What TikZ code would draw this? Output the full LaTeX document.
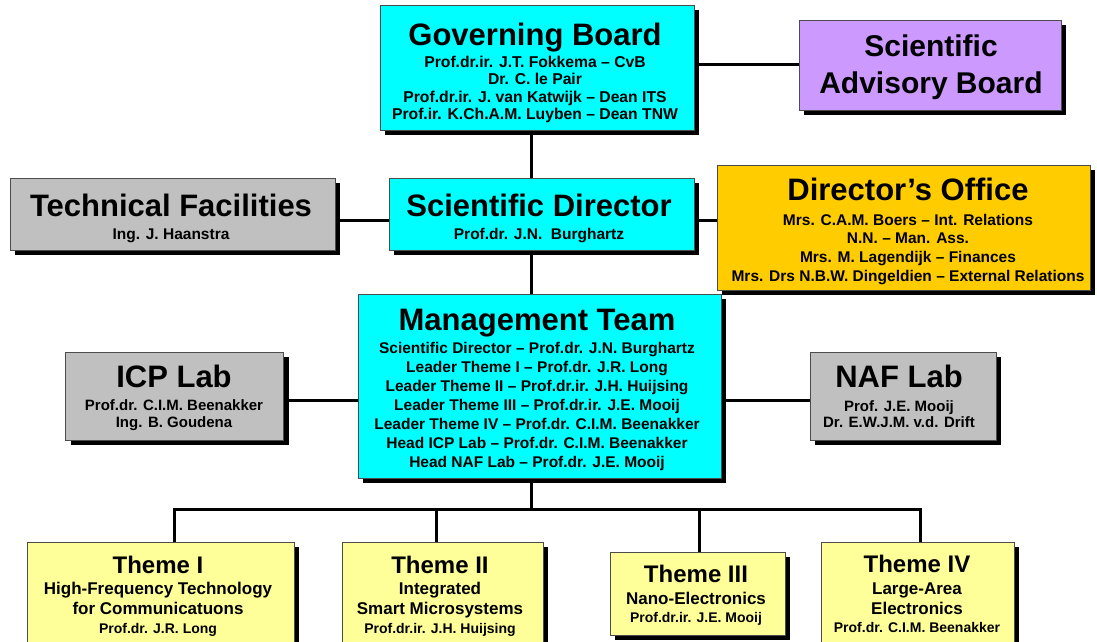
\documentclass[tikz,border=0pt]{standalone}
\usepackage{fontspec}
\setmainfont{Liberation Sans}
\usetikzlibrary{shadows}
\definecolor{cCyan}{HTML}{00FFFF}
\definecolor{cGray}{HTML}{C0C0C0}
\definecolor{cPurple}{HTML}{CC99FF}
\definecolor{cOrange}{HTML}{FFCC00}
\definecolor{cYellow}{HTML}{FFFF99}
\newcommand\tbig[1]{{\fontsize{31}{31}\selectfont #1}}
\newcommand\tmid[1]{{\fontsize{24}{24}\selectfont #1}}
\newcommand\tsml[1]{{\fontsize{14}{14}\selectfont #1}}
\pgfdeclarelayer{bg}
\pgfsetlayers{bg,main}
\tikzset{
  orgbox/.style={draw=black!70, line width=0.7pt, inner sep=0pt,
    drop shadow={shadow xshift=5pt, shadow yshift=-5pt, fill=black, opacity=1}},
  boxtext/.style={inner sep=0pt, align=center, anchor=north,
    font=\bfseries\fontsize{15.5}{18.7}\selectfont},
  themetext/.style={boxtext, font=\bfseries\fontsize{17}{20}\selectfont},
  link/.style={line width=3pt, black},
}
\begin{document}
\begin{tikzpicture}[x=1pt,y=-1pt]
\useasboundingbox (0,0) rectangle (1097,642);
% boxes
\node[orgbox, fill=cCyan, minimum width=314pt, minimum height=125pt] (gb) at (537,67.5) {};
\node[orgbox, fill=cPurple, minimum width=262pt, minimum height=90pt] (sab) at (930,65) {};
\node[orgbox, fill=cGray, minimum width=325pt, minimum height=72pt] (tf) at (172.5,214) {};
\node[orgbox, fill=cCyan, minimum width=305pt, minimum height=72pt] (sd) at (541.5,214) {};
\node[orgbox, fill=cOrange, minimum width=373pt, minimum height=125pt] (do) at (903.5,227.5) {};
\node[orgbox, fill=cCyan, minimum width=363pt, minimum height=184pt] (mt) at (539.5,386) {};
\node[orgbox, fill=cGray, minimum width=218pt, minimum height=88pt] (icp) at (174.5,396) {};
\node[orgbox, fill=cGray, minimum width=186pt, minimum height=88pt] (naf) at (903,396) {};
\node[orgbox, fill=cYellow, minimum width=267pt, minimum height=120pt] (t1) at (160.5,602) {};
\node[orgbox, fill=cYellow, minimum width=201pt, minimum height=120pt] (t2) at (442.5,602) {};
\node[orgbox, fill=cYellow, minimum width=175pt, minimum height=83pt] (t3) at (697.5,593.5) {};
\node[orgbox, fill=cYellow, minimum width=193pt, minimum height=120pt] (t4) at (917.5,602) {};
% helper coordinates
\coordinate (spine) at (531,0);
\coordinate (ya) at (0,220);
\coordinate (yb) at (0,400);
\coordinate (bus) at (0,509);
\coordinate (v1) at (174,0);
\coordinate (v2) at (436,0);
\coordinate (v3) at (699,0);
\coordinate (v4) at (920,0);
% connectors
\begin{pgfonlayer}{bg}
\draw[link] (gb.east |- sab.west) -- (sab.west);
\draw[link] (spine |- gb.south) -- (spine |- sd.north);
\draw[link] (tf.east |- ya) -- (sd.west |- ya);
\draw[link] (sd.east |- ya) -- (do.west |- ya);
\draw[link] (spine |- sd.south) -- (spine |- mt.north);
\draw[link] (icp.east |- yb) -- (mt.west |- yb);
\draw[link] (mt.east |- yb) -- (naf.west |- yb);
\draw[link] (spine |- mt.south) -- (spine |- bus);
\draw[link] (v1 |- t1.north) -- (v1 |- bus) -- (v4 |- bus) -- (v4 |- t4.north);
\draw[link] (v2 |- bus) -- (v2 |- t2.north);
\draw[link] (v3 |- bus) -- (v3 |- t3.north);
\end{pgfonlayer}
% texts
\node[boxtext, font=\bfseries\fontsize{15.7}{17.5}\selectfont] (gbt) at (535,22.5)
  {\tbig{Governing Board}\\[3pt] Prof.dr.ir. J.T. Fokkema – CvB\\ Dr. C. le Pair\\ Prof.dr.ir. J. van Katwijk – Dean ITS\\ Prof.ir. K.Ch.A.M. Luyben – Dean TNW};
\node[boxtext, font=\bfseries\fontsize{30}{37}\selectfont] (sabt) at (931,35)
  {Scientific\\Advisory Board};
\node[boxtext] (tft) at (171,193.5) {\tbig{Technical Facilities}\\[4.3pt] Ing. J. Haanstra};
\node[boxtext] (sdt) at (539,193.5) {\tbig{Scientific Director}\\[4.3pt] Prof.dr. J.N.\ \ Burghartz};
\node[boxtext] (dot) at (908,177.5)
  {\tbig{Director’s Office}\\[6.3pt] Mrs. C.A.M. Boers – Int. Relations\\ N.N. – Man. Ass.\\ Mrs. M. Lagendijk – Finances\\ Mrs. Drs N.B.W. Dingeldien – External Relations};
\node[boxtext, font=\bfseries\fontsize{15.5}{19}\selectfont] (mtt) at (537,308.5)
  {\tbig{Management Team}\\[4pt] Scientific Director – Prof.dr. J.N. Burghartz\\ Leader Theme I – Prof.dr. J.R. Long\\ Leader Theme II – Prof.dr.ir. J.H. Huijsing\\ Leader Theme III – Prof.dr.ir. J.E. Mooij\\ Leader Theme IV – Prof.dr. C.I.M. Beenakker\\ Head ICP Lab – Prof.dr. C.I.M. Beenakker\\ Head NAF Lab – Prof.dr. J.E. Mooij};
\node[boxtext, font=\bfseries\fontsize{15}{17.5}\selectfont] (icpt) at (174,365)
  {\tbig{ICP Lab}\\[5pt] Prof.dr. C.I.M. Beenakker\\ Ing. B. Goudena};
\node[boxtext, font=\bfseries\fontsize{15}{16.5}\selectfont] (naft) at (899,364.5)
  {\tbig{NAF Lab}\\[7.5pt] Prof. J.E. Mooij\\ Dr. E.W.J.M. v.d. Drift};
\node[themetext] (t1t) at (158,555.7)
  {\tmid{Theme I}\\[1pt] High-Frequency Technology\\ for Communicatuons\\[-1pt] \tsml{Prof.dr. J.R. Long}};
\node[themetext] (t2t) at (440,555.7)
  {\tmid{Theme II}\\[1pt] Integrated\\ Smart Microsystems\\[-1pt] \tsml{Prof.dr.ir. J.H. Huijsing}};
\node[themetext] (t3t) at (696,564.7)
  {\tmid{Theme III}\\[2pt] Nano-Electronics\\[-2pt] \tsml{Prof.dr.ir. J.E. Mooij}};
\node[themetext] (t4t) at (917,554.7)
  {\tmid{Theme IV}\\[2pt] Large-Area\\ Electronics\\[-2pt] \tsml{Prof.dr. C.I.M. Beenakker}};
\end{tikzpicture}
\end{document}
